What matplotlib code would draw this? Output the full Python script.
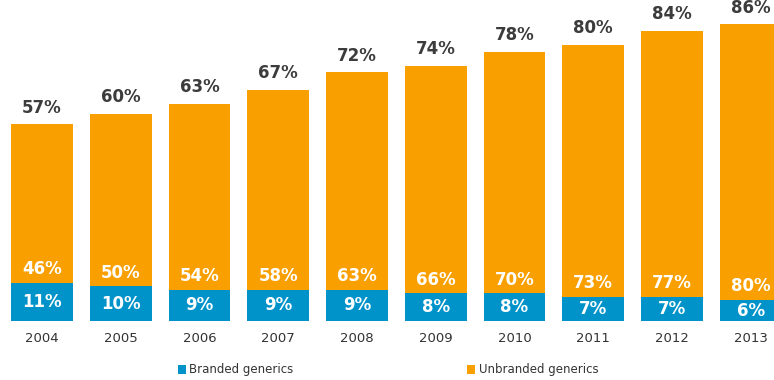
import numpy as np
import matplotlib.pyplot as plt

# data
years = ['2004', '2005', '2006', '2007', '2008', '2009', '2010', '2011', '2012', '2013']
branded = [11, 10, 9, 9, 9, 8, 8, 7, 7, 6]
unbranded = [46, 50, 54, 58, 63, 66, 70, 73, 77, 80]

blue = '#0093c9'
orange = '#f9a000'

fig = plt.figure(figsize=(7.74, 3.8), dpi=100)
ax = fig.add_axes([0, 59 / 380, 1, 321 / 380])

x = np.arange(len(years))
totals = np.array(branded) + np.array(unbranded)
ax.bar(x, branded, width=0.787, color=blue, label='Branded generics')
ax.bar(x, unbranded, width=0.787, bottom=branded, color=orange, label='Unbranded generics')

for i in range(len(years)):
    ax.text(x[i], branded[i] / 2, f'{branded[i]}%', ha='center', va='center',
            color='white', fontsize=12, fontweight='bold')
    ax.text(x[i], branded[i] + 4, f'{unbranded[i]}%', ha='center', va='center',
            color='white', fontsize=12, fontweight='bold')
    ax.annotate(f'{totals[i]}%', (x[i], totals[i]), xytext=(0, 5.5), textcoords='offset points',
                ha='center', va='bottom', color='#3c3c3c', fontsize=12, fontweight='bold')

ax.set_xlim(-42 / 78.75, (774 - 42) / 78.75)
ax.set_ylim(0, 93)
ax.set_xticks(x)
ax.set_xticklabels(years, fontsize=9.5, color='#333333')
ax.tick_params(axis='x', length=0, pad=8)
ax.set_yticks([])
for s in ax.spines.values():
    s.set_visible(False)

fig.legend(loc='center left', bbox_to_anchor=(167 / 774, 1 - 370 / 380), ncol=2, frameon=False,
           fontsize=8.5, handlelength=0.7, handleheight=0.7, handletextpad=0.3,
           columnspacing=14.7, labelcolor='#333333')

fig.savefig('out.png', dpi=100)
